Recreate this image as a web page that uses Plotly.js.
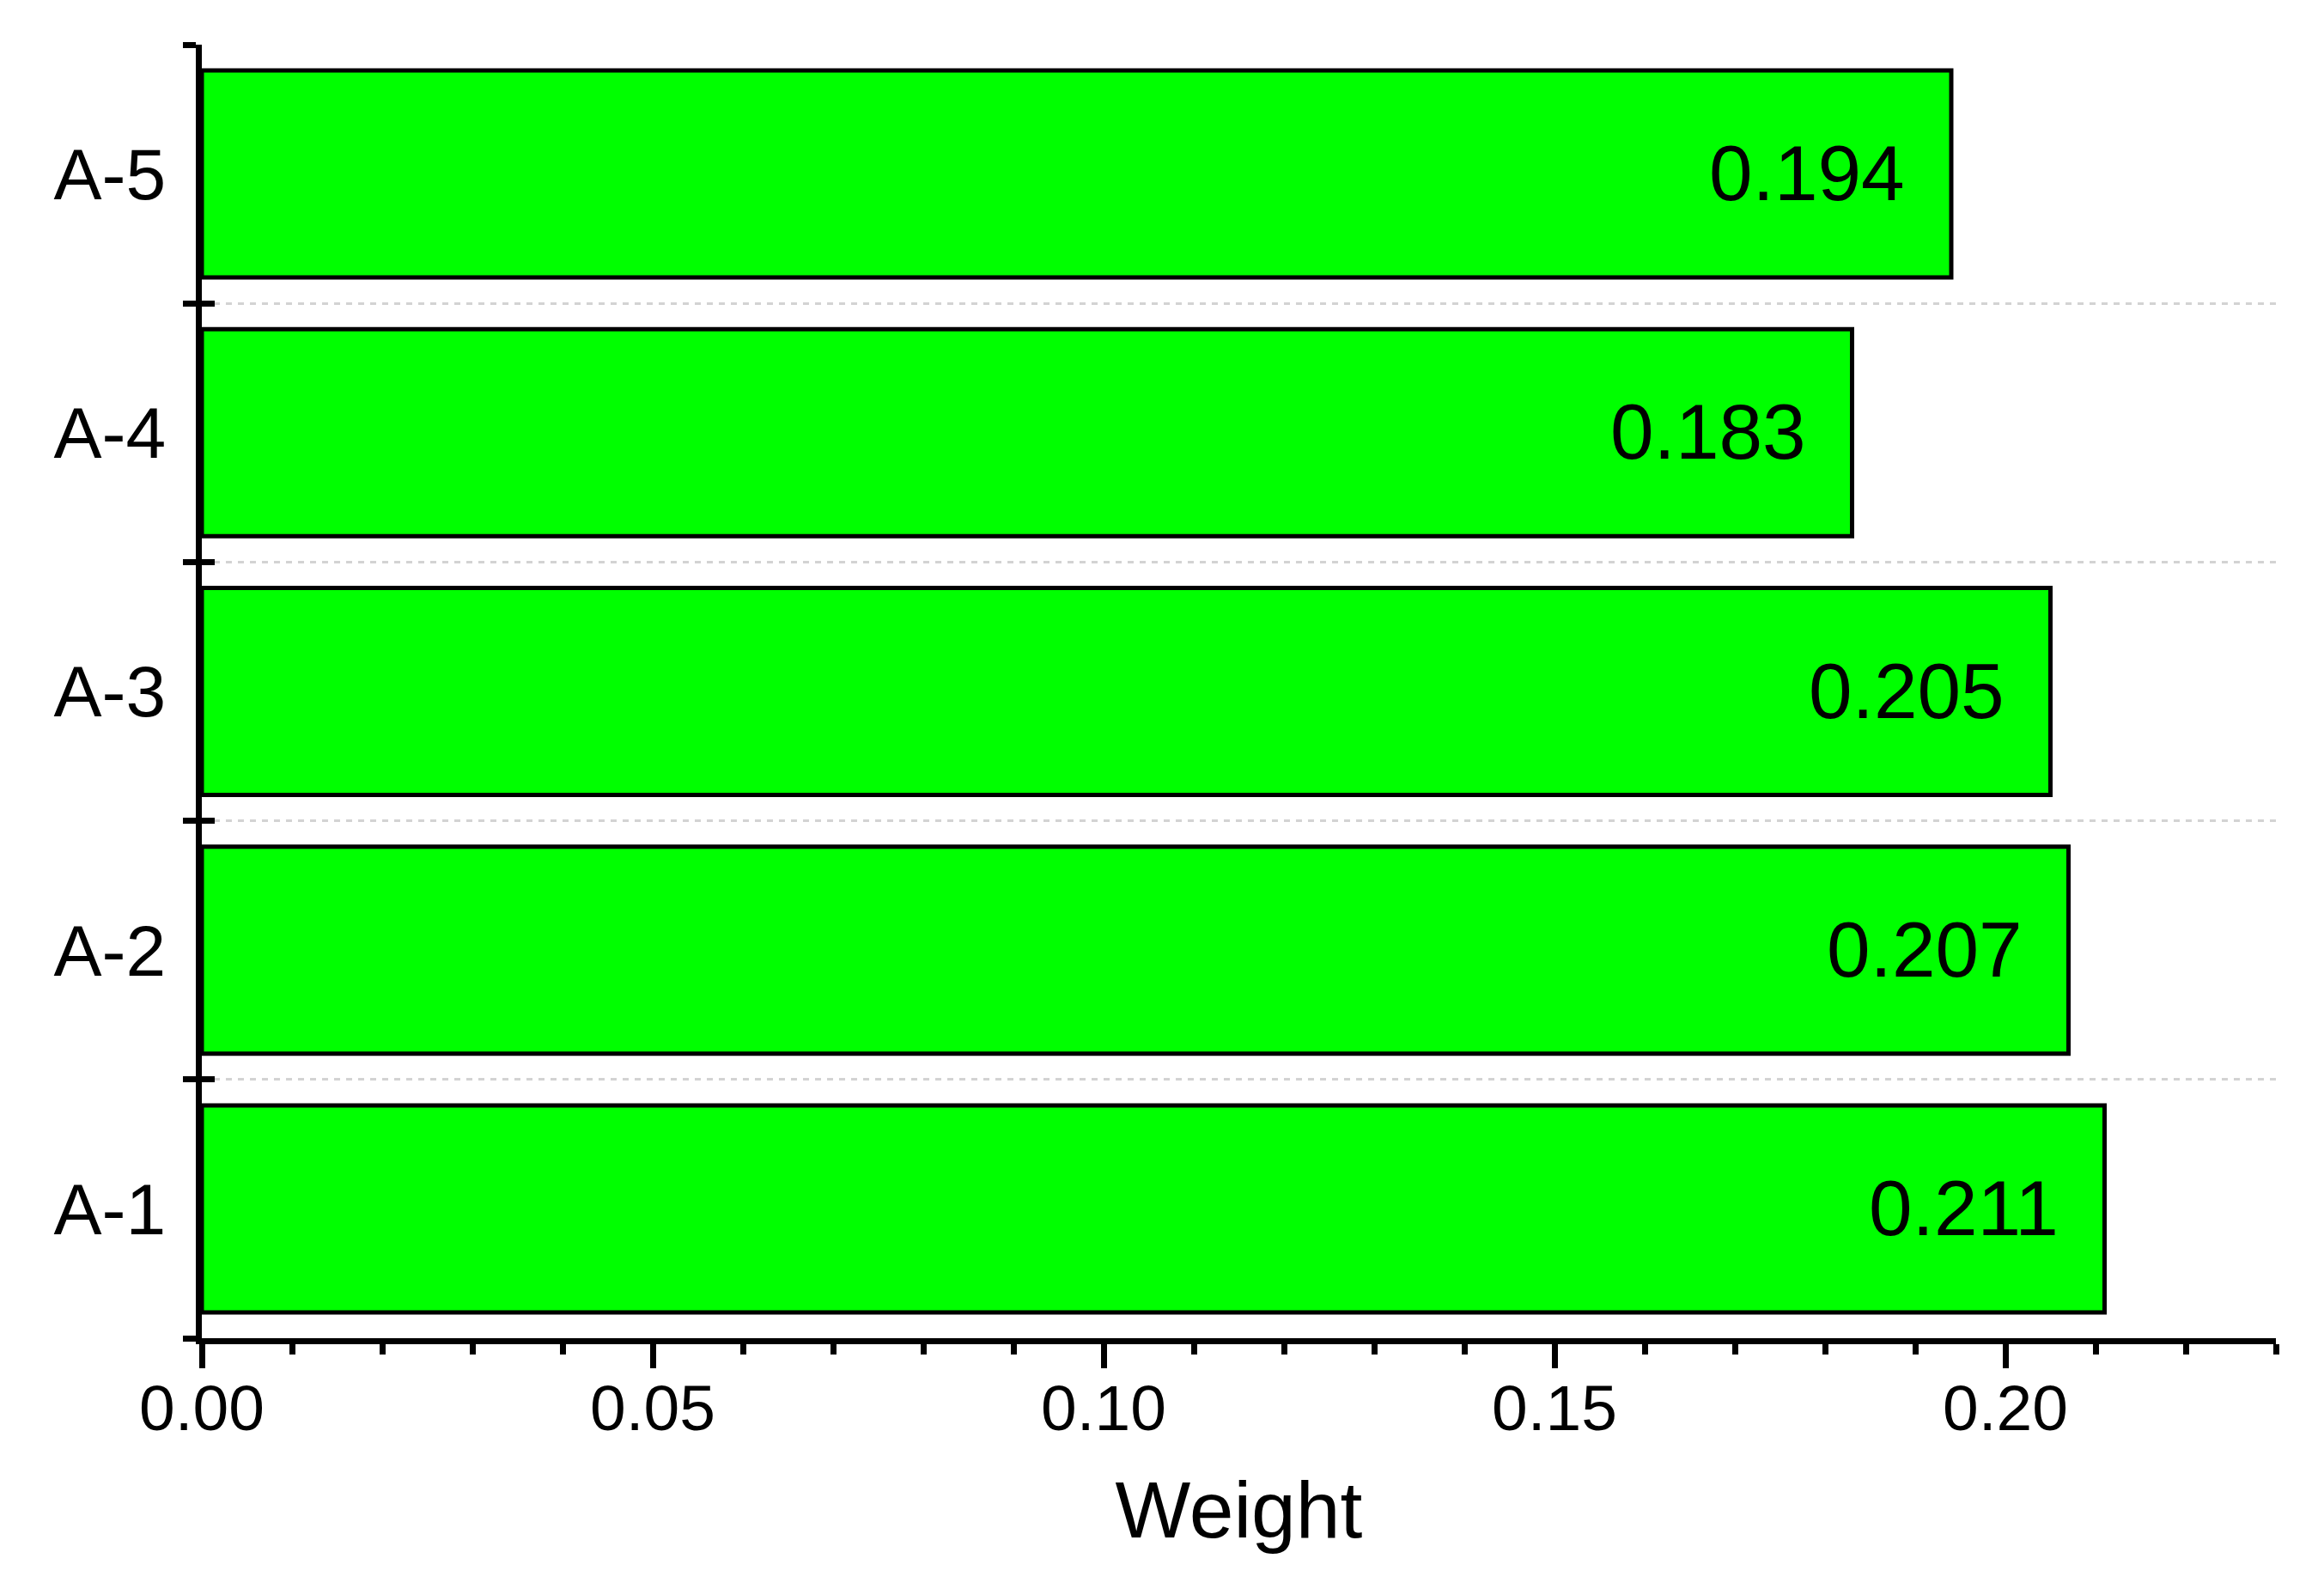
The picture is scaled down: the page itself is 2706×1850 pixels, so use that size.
<!DOCTYPE html>
<html>
<head>
<meta charset="utf-8">
<script src="https://cdn.plot.ly/plotly-3.0.1.min.js"></script>
<style>html,body{margin:0;padding:0;background:#fff;}#chart{width:2706px;height:1850px;}</style>
</head>
<body>
<div id="chart"></div>
<script>
// Data
var categories = ['A-1', 'A-2', 'A-3', 'A-4', 'A-5'];
var weights = [0.211, 0.207, 0.205, 0.183, 0.194];
var xTickVals = [0.00, 0.05, 0.10, 0.15, 0.20];
var xTickText = ['0.00', '0.05', '0.10', '0.15', '0.20'];
var xTitle = 'Weight';

var FONT = 'Liberation Sans, Arial, Helvetica, sans-serif';

var barTrace = {
  type: 'bar',
  orientation: 'h',
  x: weights,
  y: categories,
  width: 0.8,
  marker: { color: '#00FF00', line: { color: '#000000', width: 5 } },
  hoverinfo: 'skip',
  showlegend: false,
  xaxis: 'x',
  yaxis: 'y'
};

// helper trace so the overlaid axis (inner half of crossing ticks) knows the categories
var tickHelper = {
  type: 'scatter',
  mode: 'markers',
  x: weights,
  y: categories,
  marker: { opacity: 0, size: 1 },
  hoverinfo: 'skip',
  showlegend: false,
  xaxis: 'x',
  yaxis: 'y2'
};

var annotations = categories.map(function (c, i) {
  return {
    x: weights[i],
    y: c,
    xref: 'x',
    yref: 'y',
    text: weights[i].toFixed(3),
    showarrow: false,
    xanchor: 'right',
    yanchor: 'middle',
    xshift: -52,
    yshift: 1,
    font: { family: FONT, size: 91, color: '#000000' }
  };
});

var layout = {
  width: 2706,
  height: 1850,
  paper_bgcolor: '#ffffff',
  plot_bgcolor: '#ffffff',
  margin: { l: 235, r: 56, t: 52, b: 292, pad: 0 },
  showlegend: false,
  xaxis: {
    range: [0, 0.23],
    tickvals: xTickVals,
    ticktext: xTickText,
    ticks: 'outside',
    ticklen: 28,
    tickwidth: 7,
    tickcolor: '#000000',
    showline: true,
    linewidth: 7,
    linecolor: '#000000',
    showgrid: false,
    zeroline: false,
    tickfont: { family: FONT, size: 75, color: '#000000' },
    ticklabelstandoff: -18,
    minor: { dtick: 0.01, tick0: 0, ticks: 'outside', ticklen: 12, tickwidth: 7, tickcolor: '#000000', showgrid: false },
    title: { text: xTitle, font: { family: FONT, size: 93, color: '#000000' }, standoff: 47 },
    fixedrange: true
  },
  yaxis: {
    type: 'category',
    categoryorder: 'array',
    categoryarray: categories,
    range: [-0.5, 4.5],
    ticks: 'outside',
    tickson: 'boundaries',
    ticklen: 15,
    tickwidth: 7,
    tickcolor: '#000000',
    showline: true,
    linewidth: 7,
    linecolor: '#000000',
    showgrid: true,
    gridcolor: '#D3D3D3',
    gridwidth: 3,
    griddash: '7px,7px',
    zeroline: false,
    tickfont: { family: FONT, size: 84, color: '#000000' },
    ticklabelstandoff: 18,
    fixedrange: true
  },
  yaxis2: {
    type: 'category',
    categoryorder: 'array',
    categoryarray: categories,
    range: [-0.5, 4.5],
    overlaying: 'y',
    side: 'left',
    anchor: 'x',
    ticks: 'inside',
    tickson: 'boundaries',
    ticklen: 15,
    tickwidth: 7,
    tickcolor: '#000000',
    showline: false,
    showgrid: false,
    zeroline: false,
    showticklabels: false,
    fixedrange: true
  },
  annotations: annotations,
  bargap: 0.2
};

Plotly.newPlot('chart', [barTrace, tickHelper], layout, { displayModeBar: false, staticPlot: true });
</script>
</body>
</html>
